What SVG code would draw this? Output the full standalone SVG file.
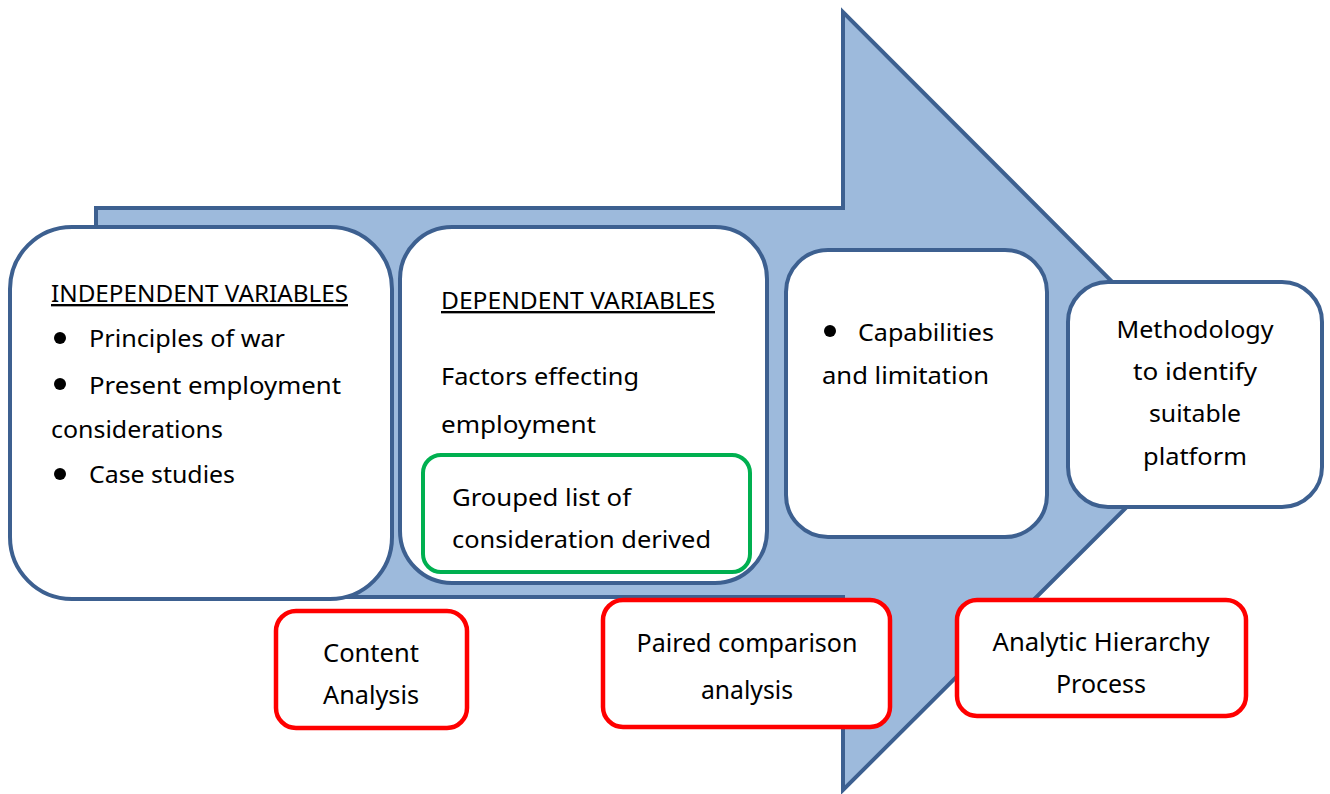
<svg xmlns="http://www.w3.org/2000/svg" width="1330" height="794" viewBox="0 0 1330 794">
  <style>
    .arrow { fill: #9dbadc; stroke: #3d6090; stroke-width: 4; stroke-linejoin: miter; }
    .box { fill: #ffffff; stroke: #3d6090; stroke-width: 4; }
    .green { fill: #ffffff; stroke: #00b050; stroke-width: 4; }
    .red { fill: #ffffff; stroke: #ff0000; stroke-width: 4.5; }
    .t { font-family: "Noto Sans", "Open Sans", sans-serif; font-size: 23.5px; fill: #000000; }
    .u { text-decoration: underline; }
    .c { font-family: "Noto Sans", "Open Sans", sans-serif; font-size: 25px; fill: #000000; text-anchor: middle; }
    .mid { text-anchor: middle; }
    .dot { fill: #000000; }
  </style>

  <!-- big block arrow behind everything -->
  <g id="flow-arrow">
    <path class="arrow" d="M96,208 H843 V12 L1232,402 L843,790 V597 H96 Z"/>
  </g>

  <g id="connectors"></g>

  <!-- independent variables -->
  <g id="independent">
    <rect class="box" x="10" y="227" width="382" height="372" rx="62" ry="62"/>
    <text class="t u" x="51" y="302" textLength="297" lengthAdjust="spacingAndGlyphs">INDEPENDENT VARIABLES</text>
    <circle class="dot" cx="60" cy="338" r="6"/>
    <text class="t" x="89" y="347" textLength="196" lengthAdjust="spacingAndGlyphs">Principles of war</text>
    <circle class="dot" cx="60" cy="384" r="6"/>
    <text class="t" x="89" y="394" textLength="252" lengthAdjust="spacingAndGlyphs">Present employment</text>
    <text class="t" x="51" y="438" textLength="172" lengthAdjust="spacingAndGlyphs">considerations</text>
    <circle class="dot" cx="60" cy="474" r="6"/>
    <text class="t" x="89" y="483" textLength="146" lengthAdjust="spacingAndGlyphs">Case studies</text>
  </g>

  <!-- dependent variables -->
  <g id="dependent">
    <rect class="box" x="400" y="227" width="367" height="356" rx="52" ry="52"/>
    <text class="t u" x="441" y="309" textLength="274" lengthAdjust="spacingAndGlyphs">DEPENDENT VARIABLES</text>
    <text class="t" x="441" y="385" textLength="198" lengthAdjust="spacingAndGlyphs">Factors effecting</text>
    <text class="t" x="441" y="433" textLength="155" lengthAdjust="spacingAndGlyphs">employment</text>
  </g>

  <g id="grouped-list">
    <rect class="green" x="423" y="455" width="327" height="117" rx="18" ry="18"/>
    <text class="t" x="452" y="506" textLength="179" lengthAdjust="spacingAndGlyphs">Grouped list of</text>
    <text class="t" x="452" y="548" textLength="259" lengthAdjust="spacingAndGlyphs">consideration derived</text>
  </g>

  <g id="capabilities">
    <rect class="box" x="786" y="250" width="261" height="287" rx="42" ry="42"/>
    <circle class="dot" cx="830" cy="331" r="6"/>
    <text class="t" x="858" y="341" textLength="136" lengthAdjust="spacingAndGlyphs">Capabilities</text>
    <text class="t" x="822" y="384" textLength="167" lengthAdjust="spacingAndGlyphs">and limitation</text>
  </g>

  <g id="methodology">
    <rect class="box" x="1068" y="282" width="254" height="225" rx="40" ry="40"/>
    <text class="t mid" x="1195" y="338" textLength="157" lengthAdjust="spacingAndGlyphs">Methodology</text>
    <text class="t mid" x="1195" y="380" textLength="124" lengthAdjust="spacingAndGlyphs">to identify</text>
    <text class="t mid" x="1195" y="422" textLength="92" lengthAdjust="spacingAndGlyphs">suitable</text>
    <text class="t mid" x="1195" y="465" textLength="104" lengthAdjust="spacingAndGlyphs">platform</text>
  </g>

  <!-- analysis methods -->
  <g id="content-analysis">
    <rect class="red" x="276" y="611" width="191" height="117" rx="20" ry="20"/>
    <text class="c" x="371" y="662" textLength="96" lengthAdjust="spacingAndGlyphs">Content</text>
    <text class="c" x="371" y="704" textLength="96" lengthAdjust="spacingAndGlyphs">Analysis</text>
  </g>

  <g id="paired-comparison">
    <rect class="red" x="603" y="600" width="287" height="127" rx="20" ry="20"/>
    <text class="c" x="747" y="652" textLength="221" lengthAdjust="spacingAndGlyphs">Paired comparison</text>
    <text class="c" x="747" y="699" textLength="92" lengthAdjust="spacingAndGlyphs">analysis</text>
  </g>

  <g id="ahp">
    <rect class="red" x="957" y="600" width="289" height="116" rx="20" ry="20"/>
    <text class="c" x="1101" y="651" textLength="217" lengthAdjust="spacingAndGlyphs">Analytic Hierarchy</text>
    <text class="c" x="1101" y="693" textLength="90" lengthAdjust="spacingAndGlyphs">Process</text>
  </g>
</svg>
